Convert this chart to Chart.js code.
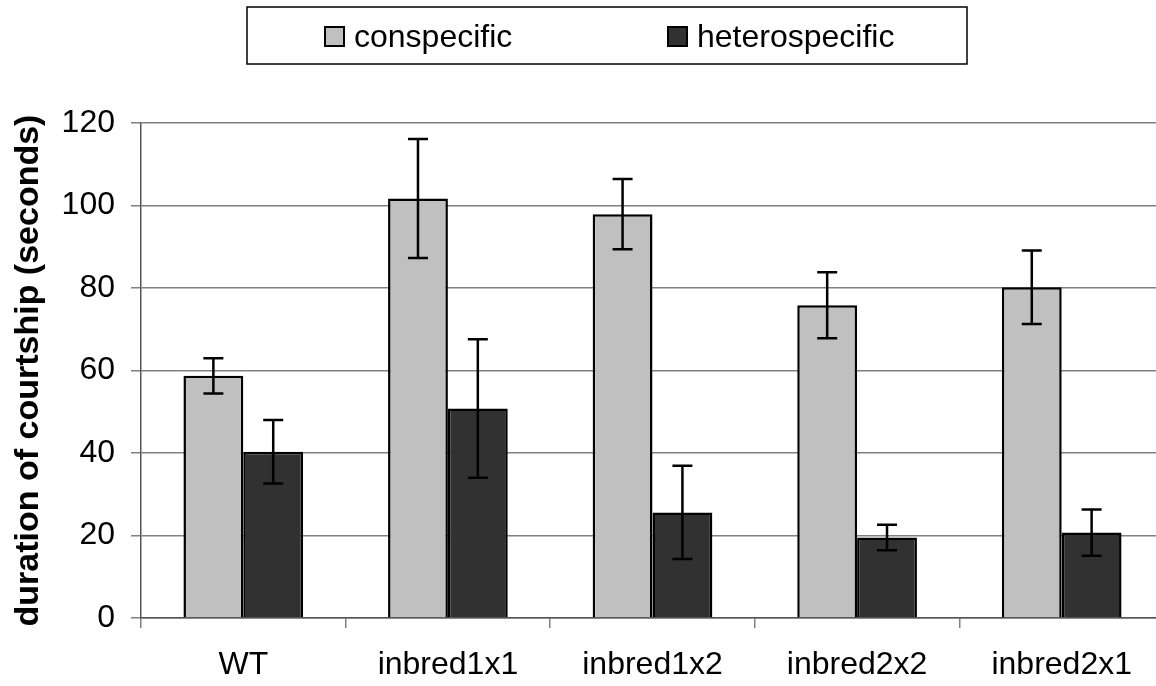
<!DOCTYPE html>
<html>
<head>
<meta charset="utf-8">
<title>duration of courtship</title>
<script src="https://cdn.jsdelivr.net/npm/chart.js@4.4.1/dist/chart.umd.min.js"></script>
<style>
  html, body { margin: 0; padding: 0; background: #fff; overflow: hidden; }
  #wrap { width: 1170px; height: 686px; }
</style>
</head>
<body>
<div id="wrap"><canvas id="grafico" width="1170" height="686"></canvas></div>
<script>
// dados
const categorias = ["WT", "inbred1x1", "inbred1x2", "inbred2x2", "inbred2x1"];
const conspecific = [58.7, 101.7, 97.9, 75.8, 80.2];
const heterospecific = [40.3, 50.8, 25.6, 19.5, 20.7];
const conspecificErr = [4.3, 14.4, 8.5, 8.0, 8.9];
const heterospecificErr = [7.7, 16.8, 11.3, 3.1, 5.6];
const yTicks = [0, 20, 40, 60, 80, 100, 120];

const FONTE = "'Liberation Sans', Arial, sans-serif";

// barras de erro
const errorBars = {
  id: "errorBars",
  afterDatasetsDraw(chart) {
    const ctx = chart.ctx;
    const y = chart.scales.y;
    ctx.save();
    ctx.strokeStyle = "#000";
    ctx.lineWidth = 2.5;
    chart.data.datasets.forEach((ds, i) => {
      const meta = chart.getDatasetMeta(i);
      meta.data.forEach((bar, j) => {
        const v = ds.data[j];
        const e = ds.errors[j];
        const top = y.getPixelForValue(v + e);
        const bot = y.getPixelForValue(v - e);
        const x = bar.x;
        ctx.beginPath();
        ctx.moveTo(x, top); ctx.lineTo(x, bot);
        ctx.moveTo(x - 10, top); ctx.lineTo(x + 10, top);
        ctx.moveTo(x - 10, bot); ctx.lineTo(x + 10, bot);
        ctx.stroke();
      });
    });
    ctx.restore();
  }
};

// legenda com caixa
const legendaCaixa = {
  id: "legendaCaixa",
  afterDraw(chart) {
    const ctx = chart.ctx;
    ctx.save();
    ctx.strokeStyle = "#000";
    ctx.lineWidth = 1.5;
    ctx.strokeRect(247, 7, 720, 57);
    const pos = [325, 668];
    chart.data.datasets.forEach((ds, i) => {
      ctx.fillStyle = ds.backgroundColor;
      ctx.fillRect(pos[i], 27, 19, 19);
      ctx.lineWidth = 2;
      ctx.strokeRect(pos[i], 27, 19, 19);
      ctx.fillStyle = "#000";
      ctx.font = "32px " + FONTE;
      ctx.textBaseline = "middle";
      ctx.textAlign = "left";
      ctx.fillText(ds.label, pos[i] + 29, 38);
    });
    ctx.restore();
  }
};

function criarGrafico() {
  new Chart(document.getElementById("grafico"), {
    type: "bar",
    data: {
      labels: categorias,
      datasets: [
        {
          label: "conspecific",
          data: conspecific,
          errors: conspecificErr,
          backgroundColor: "#c0c0c0",
          borderColor: "#000",
          borderWidth: 2.5,
          categoryPercentage: 0.585,
          barPercentage: 1.0
        },
        {
          label: "heterospecific",
          data: heterospecific,
          errors: heterospecificErr,
          backgroundColor: "#313131",
          borderColor: "#000",
          borderWidth: 2.5,
          categoryPercentage: 0.585,
          barPercentage: 1.0
        }
      ]
    },
    options: {
      responsive: false,
      animation: false,
      layout: { padding: { top: 123, right: 6, bottom: 0, left: 0 } },
      plugins: {
        legend: { display: false },
        tooltip: { enabled: false }
      },
      scales: {
        x: {
          afterFit: (s) => { s.height = 68; },
          grid: {
            offset: true,
            drawOnChartArea: false,
            tickLength: 10,
            color: "#808080",
            lineWidth: 1.5
          },
          border: { color: "#555", width: 1.5 },
          ticks: {
            color: "#000",
            padding: 18,
            font: { family: FONTE, size: 32 }
          }
        },
        y: {
          min: 0,
          max: 120,
          afterFit: (s) => { s.width = 141; },
          afterBuildTicks: (s) => { s.ticks = yTicks.map(v => ({ value: v })); },
          grid: {
            color: "#808080",
            lineWidth: 1.5,
            tickLength: 10
          },
          border: { color: "#555", width: 1.5 },
          ticks: {
            color: "#000",
            padding: 16,
            font: { family: FONTE, size: 32 }
          },
          title: {
            display: true,
            text: "duration of courtship (seconds)",
            color: "#000",
            padding: { top: 8, bottom: 0 },
            font: { family: FONTE, size: 34, weight: "bold" }
          }
        }
      }
    },
    plugins: [errorBars, legendaCaixa]
  });
}

document.addEventListener("DOMContentLoaded", criarGrafico);
</script>
</body>
</html>
